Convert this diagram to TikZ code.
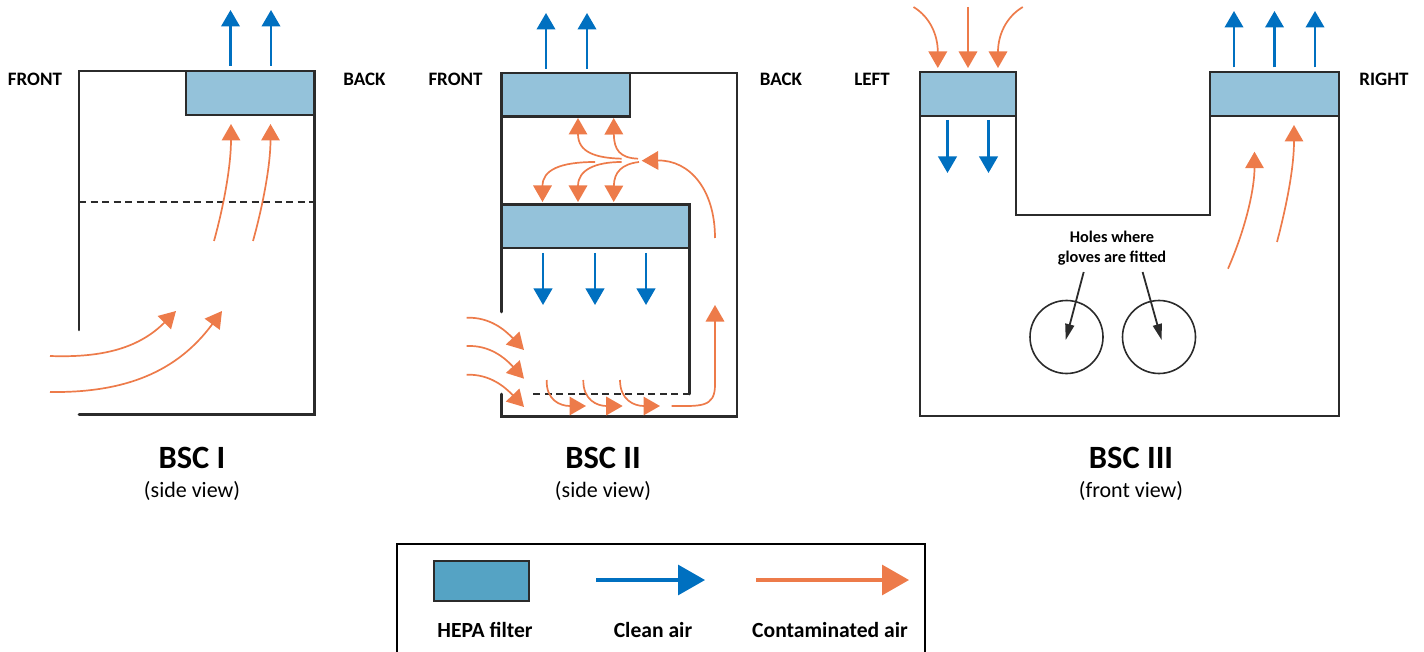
\documentclass[tikz,border=0pt]{standalone}
\usepackage{fontspec}
\setmainfont{Carlito}
\usetikzlibrary{arrows.meta}
\definecolor{hepa}{HTML}{94C2DA}
\definecolor{hepakey}{HTML}{55A3C4}
\definecolor{cleanblue}{HTML}{0070C0}
\definecolor{dirtyorange}{HTML}{ED7B4A}
\definecolor{wallgrey}{HTML}{2B2B2B}
\newcommand{\flow}[5]{\coordinate (#1s) at (#3); \coordinate (#1e) at (#4); \draw[#2] (#1s) #5 (#1e);}
\tikzset{
  x=1pt,y=-1pt,
  wall/.style={draw=wallgrey,line width=2.6pt,line cap=round,line join=miter},
  thinwall/.style={draw=wallgrey,line width=1.9pt,line join=miter},
  filterbox/.style={draw=wallgrey,line width=2.6pt,fill=hepa},
  dashline/.style={draw=wallgrey,line width=2.5pt,dash pattern=on 7pt off 4.5pt},
  clean/.style={draw=cleanblue,line width=2.4pt,-{Triangle[width=18.5pt,length=16.5pt,fill=cleanblue]}},
  dirty/.style={draw=dirtyorange,line width=1.7pt,-{Triangle[width=18.5pt,length=16.5pt,fill=dirtyorange]}},
  pointer/.style={draw=wallgrey,line width=1.8pt,-{Triangle[width=9pt,length=16pt,fill=wallgrey]}},
  side/.style={font=\bfseries\fontsize{19}{21}\selectfont,anchor=center},
  title/.style={font=\bfseries\fontsize{32.5}{34}\selectfont,anchor=center},
  view/.style={font=\fontsize{22}{24}\selectfont,anchor=center},
  note/.style={font=\bfseries\fontsize{16.3}{20}\selectfont,align=center,anchor=center},
  keytext/.style={font=\bfseries\fontsize{21.6}{23}\selectfont,anchor=center},
  hole/.style={circle,draw=wallgrey,line width=1.6pt,minimum size=73pt,inner sep=0pt},
}
\newcommand{\filt}[5]{\node[filterbox,anchor=north west,minimum width=#4pt,minimum height=#5pt,inner sep=0pt,outer sep=0pt] (#1) at (#2,#3) {};}
\begin{document}
\begin{tikzpicture}
\useasboundingbox (0,0) rectangle (1424,652);
% ---------- BSC I
\coordinate (a1) at (79,330); \coordinate (a2) at (79,71); \coordinate (a3) at (314.5,71);
\coordinate (a4) at (314.5,414.5); \coordinate (a5) at (79,414.5);
\draw[wall] (a1) -- (a2) -- (a3) -- (a4) -- (a5);
\filt{fa}{186}{71}{128}{44}
\coordinate (ad1) at (79,202); \coordinate (ad2) at (314.5,202);
\draw[dashline] (ad1) -- (ad2);
\flow{ab1}{clean}{230.5,66}{230.5,10}{--}
\flow{ab2}{clean}{271,66}{271,10}{--}
\flow{ao1}{dirty}{214,241}{231,124}{.. controls (224,205) and (231,165) ..}
\flow{ao2}{dirty}{253,241}{270.5,124}{.. controls (263,205) and (270.5,165) ..}
\flow{ao3}{dirty}{50,356}{176,311}{.. controls (105,358) and (140,347) ..}
\flow{ao4}{dirty}{50,392}{222,311}{.. controls (125,393) and (177,372) ..}
\node[side] (af) at (35,79) {FRONT};
\node[side] (ak) at (364.5,79) {BACK};
\node[title] (at) at (192,458) {BSC I};
\node[view] (av) at (192,491) {(side view)};
% ---------- BSC II
\coordinate (b1) at (501.5,312); \coordinate (b2) at (501.5,73); \coordinate (b3) at (737,73);
\coordinate (b4) at (737,416.5); \coordinate (b5) at (501.5,416.5); \coordinate (b6) at (501.5,394);
\draw[wall] (b1) -- (b2) -- (b3) -- (b4) -- (b5) -- (b6);
\filt{fb}{501.5}{73}{128.5}{43.5}
\filt{fc}{501.5}{204.5}{188}{43.5}
\coordinate (bw1) at (689.5,248); \coordinate (bw2) at (689.5,394); \coordinate (bw3) at (530,394);
\draw[wall] (bw1) -- (bw2);
\draw[dashline] (bw2) -- (bw3);
\flow{bb1}{clean}{546,69}{546,13}{--}
\flow{bb2}{clean}{587,69}{587,13}{--}
\flow{bb3}{clean}{543,253}{543,305}{--}
\flow{bb4}{clean}{595,253}{595,305}{--}
\flow{bb5}{clean}{646,253}{646,305}{--}
\flow{bo1}{dirty}{621.7,158.7}{578,118}{.. controls (595,158) and (578,152) ..}
\flow{bo2}{dirty}{638,158.7}{613.7,118}{.. controls (620,158) and (614,150) ..}
\flow{bo3}{dirty}{595,162}{542.5,202}{.. controls (560,162) and (542.5,170) ..}
\flow{bo4}{dirty}{621.7,162}{578,202}{.. controls (595,162) and (578,170) ..}
\flow{bo5}{dirty}{639,162}{613.7,202}{.. controls (622,164) and (614,172) ..}
\flow{bo6}{dirty}{715,238}{641.7,160.7}{.. controls (715,190) and (690,160) ..}
\flow{bo7}{dirty}{466.7,317.7}{524,350}{.. controls (490,317) and (505,330) ..}
\flow{bo8}{dirty}{466.7,346}{524,378.7}{.. controls (490,345) and (505,358) ..}
\flow{bo9}{dirty}{466.7,374.7}{524,407}{.. controls (490,374) and (505,387) ..}
\flow{bo10}{dirty}{546.7,380}{586,406}{.. controls (546,400) and (560,406) ..}
\flow{bo11}{dirty}{583.3,380}{622.7,406}{.. controls (583,400) and (597,406) ..}
\flow{bo12}{dirty}{620,380}{660,406}{.. controls (620,400) and (634,406) ..}
\flow{bo13}{dirty}{671.7,406}{715,305}{.. controls (700,406) and (715,408) .. (715,385) --}
\node[side] (bf) at (455.5,79) {FRONT};
\node[side] (bk) at (781,79) {BACK};
\node[title] (bt) at (603,458) {BSC II};
\node[view] (bv) at (603,491) {(side view)};
% ---------- BSC III
\coordinate (c1) at (920,72); \coordinate (c2) at (920,416); \coordinate (c3) at (1339,416);
\coordinate (c4) at (1339,72); \coordinate (c5) at (1210,72); \coordinate (c6) at (1210,215);
\coordinate (c7) at (1016,215); \coordinate (c8) at (1016,72);
\draw[thinwall] (c1) -- (c2) -- (c3) -- (c4) -- (c5) -- (c6) -- (c7) -- (c8) -- cycle;
\filt{fd}{920}{72}{96}{44}
\filt{fe}{1210}{72}{129}{44}
\flow{co1}{dirty}{913.5,7}{937.8,68}{.. controls (930,17) and (937.8,35) ..}
\flow{co2}{dirty}{968,7}{968,68}{--}
\flow{co3}{dirty}{1022.8,7}{998,68}{.. controls (1006,17) and (998,35) ..}
\flow{cb1}{clean}{947.5,120}{947.5,173}{--}
\flow{cb2}{clean}{988.5,120}{988.5,173}{--}
\flow{cb3}{clean}{1234,67.5}{1234,11}{--}
\flow{cb4}{clean}{1274.5,67.5}{1274.5,11}{--}
\flow{cb5}{clean}{1315,67.5}{1315,11}{--}
\flow{co4}{dirty}{1228,268.7}{1254.5,151.7}{.. controls (1245,230) and (1254.5,190) ..}
\flow{co5}{dirty}{1277,242}{1294,125}{.. controls (1288,200) and (1294,165) ..}
\node[hole] (h1) at (1066.5,337) {};
\node[hole] (h2) at (1159,337) {};
\node[note] (cn) at (1112,248.5) {Holes where\\gloves are fitted};
\flow{cp1}{pointer}{1083.7,272}{1065.7,340}{--}
\flow{cp2}{pointer}{1142.6,272}{1161.6,340}{--}
\node[side] (cf) at (872,79) {LEFT};
\node[side] (ck) at (1384,79) {RIGHT};
\node[title] (ct) at (1131,458) {BSC III};
\node[view] (cv) at (1131,491) {(front view)};
% ---------- key
\coordinate (k1) at (397,660); \coordinate (k2) at (397,544); \coordinate (k3) at (925,544); \coordinate (k4) at (925,660);
\draw[draw=black,line width=2.4pt] (k1) -- (k2) -- (k3) -- (k4);
\node[draw=wallgrey,line width=2pt,fill=hepakey,anchor=north west,minimum width=95.5pt,minimum height=40pt,inner sep=0pt] (kf) at (432.5,560) {};
\flow{kb}{draw=cleanblue,line width=3.2pt,-{Triangle[width=30pt,length=27pt,fill=cleanblue]}}{596,580}{705,580}{--}
\flow{ko}{draw=dirtyorange,line width=3.2pt,-{Triangle[width=30pt,length=27pt,fill=dirtyorange]}}{756,580}{909,580}{--}
\node[keytext] (kt1) at (485,630) {HEPA filter};
\node[keytext] (kt2) at (653,630) {Clean air};
\node[keytext] (kt3) at (830,630) {Contaminated air};
\end{tikzpicture}
\end{document}
